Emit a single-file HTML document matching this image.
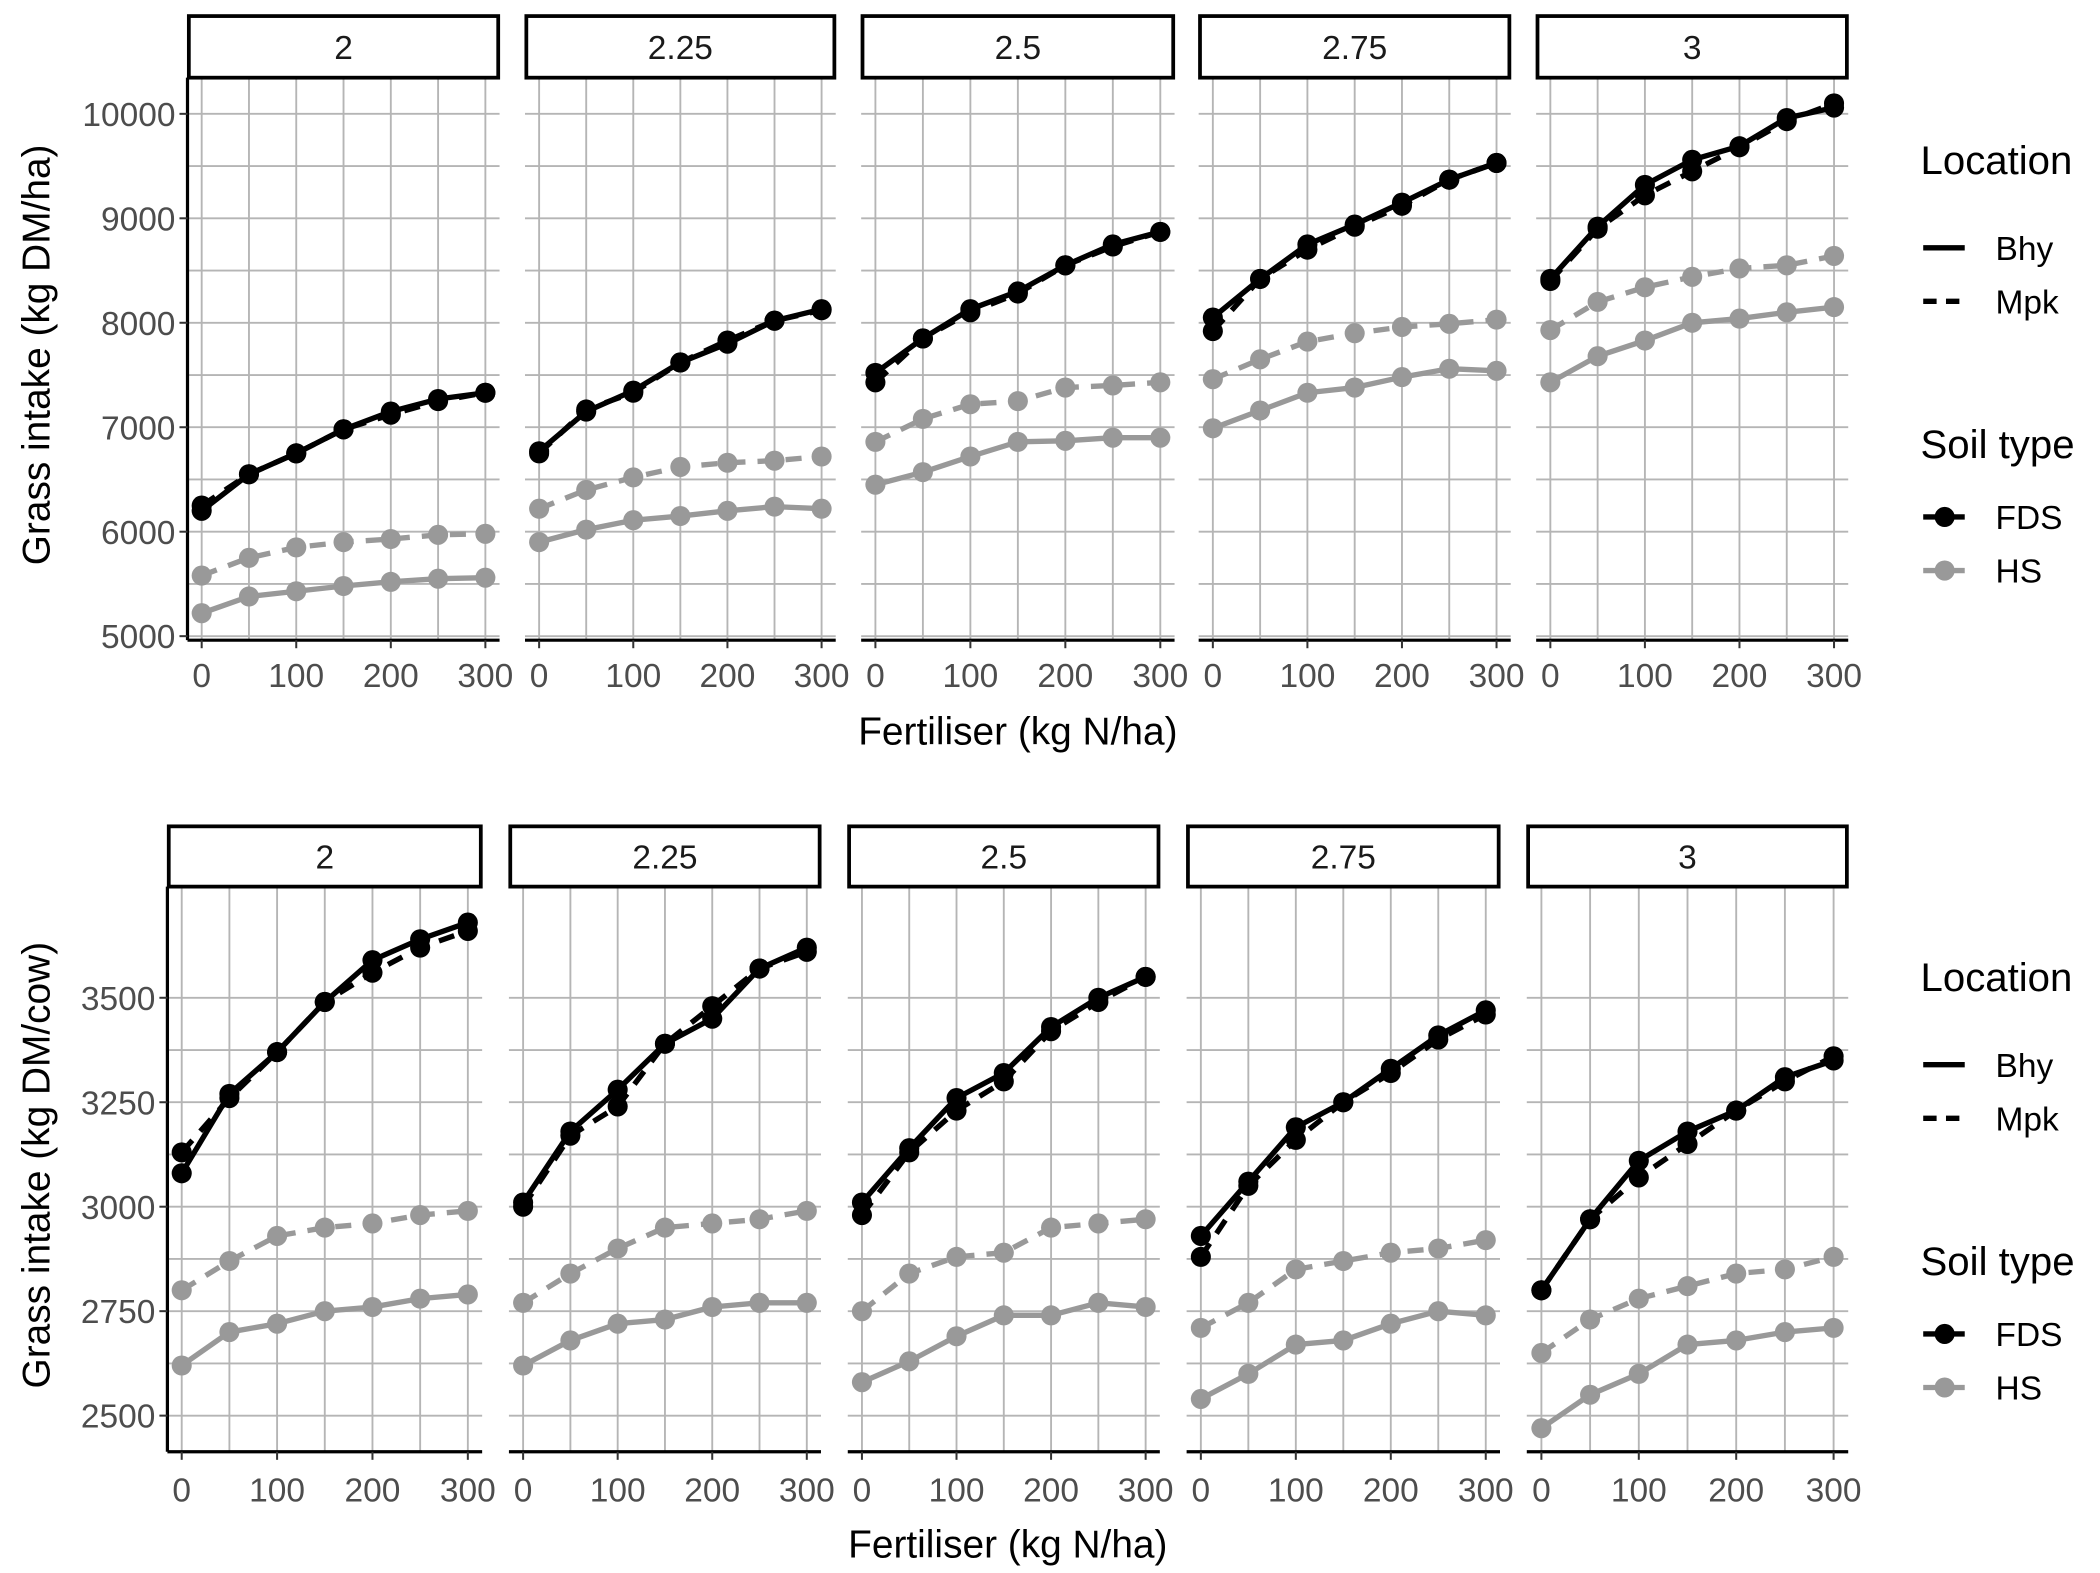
<!DOCTYPE html>
<html><head><meta charset="utf-8">
<style>
html,body{margin:0;padding:0;background:#fff;}
svg{display:block;font-family:"Liberation Sans",Arial,sans-serif;}
</style></head>
<body>
<svg id="chart" width="2100" height="1573" viewBox="0 0 1568 1174.5" preserveAspectRatio="none" xmlns="http://www.w3.org/2000/svg"></svg>
<script>
const fertiliser = [0,50,100,150,200,250,300];
const stockingRates = ["2","2.25","2.5","2.75","3"];
const xTicks = [0,100,200,300];
const topYTicks = [5000,6000,7000,8000,9000,10000];
const botYTicks = [2500,2750,3000,3250,3500];
// top row: kg DM/ha
const topBhyFDS = [[6200,6550,6750,6980,7150,7270,7330],[6770,7150,7350,7620,7800,8020,8130],[7520,7850,8130,8300,8550,8750,8870],[8050,8420,8750,8940,9150,9370,9530],[8420,8920,9320,9560,9690,9960,10060]];
const topMpkFDS = [[6250,6550,6750,6980,7120,7250,7330],[6750,7170,7330,7620,7830,8020,8120],[7430,7850,8100,8280,8550,8730,8870],[7920,8420,8700,8920,9120,9370,9530],[8400,8900,9220,9450,9680,9930,10100]];
const topBhyHS = [[5220,5380,5430,5480,5520,5550,5560],[5900,6020,6110,6150,6200,6240,6220],[6450,6570,6720,6860,6870,6900,6900],[6990,7160,7330,7380,7480,7560,7540],[7430,7680,7830,8000,8040,8100,8150]];
const topMpkHS = [[5580,5750,5850,5900,5930,5970,5980],[6220,6400,6520,6620,6660,6680,6720],[6860,7080,7220,7250,7380,7400,7430],[7460,7650,7820,7900,7960,7990,8030],[7930,8200,8340,8440,8520,8550,8640]];
// bottom row: kg DM/cow
const botBhyFDS = [[3080,3270,3370,3490,3590,3640,3680],[3010,3180,3280,3390,3450,3570,3620],[3010,3140,3260,3320,3430,3500,3550],[2930,3060,3190,3250,3330,3410,3470],[2800,2970,3110,3180,3230,3310,3350]];
const botMpkFDS = [[3130,3260,3370,3490,3560,3620,3660],[3000,3170,3240,3390,3480,3570,3610],[2980,3130,3230,3300,3420,3490,3550],[2880,3050,3160,3250,3320,3400,3460],[2800,2970,3070,3150,3230,3300,3360]];
const botBhyHS = [[2620,2700,2720,2750,2760,2780,2790],[2620,2680,2720,2730,2760,2770,2770],[2580,2630,2690,2740,2740,2770,2760],[2540,2600,2670,2680,2720,2750,2740],[2470,2550,2600,2670,2680,2700,2710]];
const botMpkHS = [[2800,2870,2930,2950,2960,2980,2990],[2770,2840,2900,2950,2960,2970,2990],[2750,2840,2880,2890,2950,2960,2970],[2710,2770,2850,2870,2890,2900,2920],[2650,2730,2780,2810,2840,2850,2880]];

const NS="http://www.w3.org/2000/svg";
const svg=document.getElementById('chart');
function mk(tag,attrs,parent){const e=document.createElementNS(NS,tag);for(const k in attrs)e.setAttribute(k,attrs[k]);(parent||svg).appendChild(e);return e;}
function txt(s,attrs,parent){const e=mk('text',attrs,parent);e.textContent=s;return e;}

const BLACK="#000", GREY="#999999", GRID="#b5b5b5";

function drawRow(cfg){
  const {panels, stripTop, stripBot, plotBot, yMin, yMax, yPxMin, yPxMax, yTicks, minorStep, series, tickLabelY, titleY, yTitle, yTitleY, tag} = cfg;
  const yS = v => yPxMin + (v - yMin)*(yPxMax - yPxMin)/(yMax - yMin);
  panels.forEach((p,pi)=>{
    const [x0,x1]=p;
    const xS = v => x0 + (x1-x0)*(v+15)/330;
    const g=mk('g',{});
    
    
    for(let v=yMin - (yMin%minorStep); v<=yMax+0.01; v+=minorStep){
      const y=yS(v); if(y<stripBot||y>plotBot) continue;
      const l=mk('line',{x1:x0,x2:x1,y1:y,y2:y,stroke:GRID,'stroke-width':1.4},g);
      
      
    }
    for(let v=0; v<=300; v+=50){
      const x=xS(v);
      const l=mk('line',{x1:x,x2:x,y1:stripBot,y2:plotBot,stroke:GRID,'stroke-width':1.4},g);
      
      
    }
    const r=mk('rect',{x:x0+1,y:stripTop,width:x1-x0-2,height:stripBot-stripTop,fill:'#fff',stroke:'#000','stroke-width':2.8},g);
    
    
    const st=txt(stockingRates[pi],{x:(x0+x1)/2,y:(stripTop+stripBot)/2+9,'text-anchor':'middle','font-size':25,fill:'#1a1a1a'},g);
    
    
    const ax=mk('line',{x1:x0,x2:x1,y1:plotBot,y2:plotBot,stroke:'#000','stroke-width':2.4},g);
    
    
    xTicks.forEach(v=>{
      const x=xS(v);
      mk('line',{x1:x,x2:x,y1:plotBot,y2:plotBot+6,stroke:'#333','stroke-width':1.5},g);
      const t=txt(String(v),{x:x,y:tickLabelY,'text-anchor':'middle','font-size':25,fill:'#4d4d4d'},g);
      
      
    });
    if(pi===0){
      const ay=mk('line',{x1:x0,x2:x0,y1:stripBot,y2:plotBot,stroke:'#000','stroke-width':2.4},g);
      
      
      yTicks.forEach(v=>{
        const y=yS(v);
        mk('line',{x1:x0-6,x2:x0,y1:y,y2:y,stroke:'#333','stroke-width':1.5},g);
        const t=txt(String(v),{x:x0-9,y:y+9,'text-anchor':'end','font-size':25,fill:'#4d4d4d'},g);
        
        
      });
    }
    series.forEach(s=>{
      const vals=s.data[pi];
      const pts=fertiliser.map((f,i)=>xS(f)+','+yS(vals[i])).join(' ');
      const pl=mk('polyline',{points:pts,fill:'none',stroke:s.color,'stroke-width':4,'stroke-dasharray':s.dash?'12 9':'none','stroke-linejoin':'round'},g);
      
      
      fertiliser.forEach((f,i)=>{
        const c=mk('circle',{cx:xS(f),cy:yS(vals[i]),r:7.5,fill:s.color},g);
        
        
      });
    });
  });
  const xt=txt('Fertiliser (kg N/ha)',{x:(panels[0][0]+panels[4][1])/2,y:titleY,'text-anchor':'middle','font-size':29,fill:'#000'});
  
  
  const yt=txt(yTitle,{x:0,y:0,'text-anchor':'middle','font-size':29,fill:'#000',transform:'translate(37,'+yTitleY+') rotate(-90)'});
  
  
}

const topSeries=[
 {name:'hs-bhy',data:topBhyHS,color:GREY,dash:false},
 {name:'hs-mpk',data:topMpkHS,color:GREY,dash:true},
 {name:'fds-mpk',data:topMpkFDS,color:BLACK,dash:true},
 {name:'fds-bhy',data:topBhyFDS,color:BLACK,dash:false}];
const botSeries=[
 {name:'hs-bhy',data:botBhyHS,color:GREY,dash:false},
 {name:'hs-mpk',data:botMpkHS,color:GREY,dash:true},
 {name:'fds-mpk',data:botMpkFDS,color:BLACK,dash:true},
 {name:'fds-bhy',data:botBhyFDS,color:BLACK,dash:false}];

drawRow({tag:'top',panels:[[140,373],[392,624],[643,877],[895,1128],[1147,1380]],stripTop:12,stripBot:58,plotBot:478,
 yMin:5000,yMax:10000,yPxMin:475,yPxMax:85,yTicks:topYTicks,minorStep:500,series:topSeries,
 tickLabelY:513,titleY:556,yTitle:'Grass intake (kg DM/ha)',yTitleY:265});
drawRow({tag:'bottom',panels:[[125,360],[380,613],[633,866],[886,1120],[1140,1380]],stripTop:617,stripBot:662,plotBot:1084,
 yMin:2500,yMax:3500,yPxMin:1057,yPxMax:745,yTicks:botYTicks,minorStep:125,series:botSeries,
 tickLabelY:1121,titleY:1163,yTitle:'Grass intake (kg DM/cow)',yTitleY:870});

function legend(y0,tag){
  const g=mk('g',{});
  
  
  txt('Location',{x:1434,y:y0,'font-size':30,fill:'#000'},g);
  mk('line',{x1:1436,x2:1467,y1:y0+55,y2:y0+55,stroke:'#000','stroke-width':4},g);
  txt('Bhy',{x:1490,y:y0+64,'font-size':25,fill:'#000'},g);
  mk('line',{x1:1436,x2:1467,y1:y0+95,y2:y0+95,stroke:'#000','stroke-width':4,'stroke-dasharray':'10 7'},g);
  txt('Mpk',{x:1490,y:y0+104,'font-size':25,fill:'#000'},g);
  txt('Soil type',{x:1434,y:y0+212,'font-size':30,fill:'#000'},g);
  mk('line',{x1:1436,x2:1467,y1:y0+256,y2:y0+256,stroke:'#000','stroke-width':4},g);
  mk('circle',{cx:1452,cy:y0+256,r:7.5,fill:'#000'},g);
  txt('FDS',{x:1490,y:y0+265,'font-size':25,fill:'#000'},g);
  mk('line',{x1:1436,x2:1467,y1:y0+296,y2:y0+296,stroke:GREY,'stroke-width':4},g);
  mk('circle',{cx:1452,cy:y0+296,r:7.5,fill:GREY},g);
  txt('HS',{x:1490,y:y0+305,'font-size':25,fill:'#000'},g);
}
legend(130,'top');
legend(740,'bottom');
</script>
</body></html>
